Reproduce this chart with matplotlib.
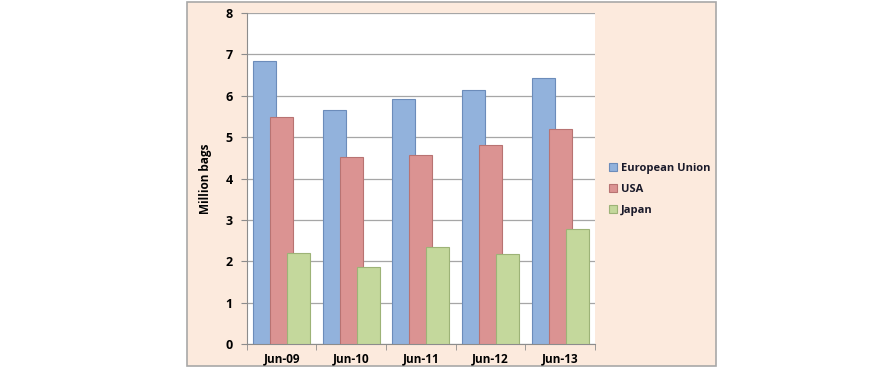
import matplotlib.pyplot as plt
import numpy as np
from matplotlib.patches import Rectangle

# data
periods = ['Jun-09', 'Jun-10', 'Jun-11', 'Jun-12', 'Jun-13']
eu = [6.83, 5.65, 5.93, 6.15, 6.42]
usa = [5.49, 4.51, 4.56, 4.81, 5.19]
japan = [2.20, 1.85, 2.35, 2.18, 2.78]
series_names = ['European Union', 'USA', 'Japan']

plt.rcParams['font.family'] = ['Open Sans', 'DejaVu Sans']

fig = plt.figure(figsize=(8.75, 3.75), dpi=100)
fig.patch.set_facecolor('white')

# peach chart box behind the plot
box = Rectangle((0.2137, 0.024), 0.6046, 0.9707, transform=fig.transFigure,
                facecolor='#FCEADD', edgecolor='#A8A8A8', linewidth=1.2, zorder=-5)
fig.patches.append(box)

ax = fig.add_axes([0.282, 0.083, 0.398, 0.882])
ax.set_zorder(1)
ax.set_facecolor('white')

x = np.arange(len(periods))
w = 0.33
step = 0.245  # bars overlap a little, as in the original
fills = ['#92B2DC', '#DB9392', '#C4D89C']
edges = ['#6C8CBA', '#B87372', '#9DB377']
for i, (vals, name) in enumerate(zip([eu, usa, japan], series_names)):
    ax.bar(x + (i - 1) * step, vals, w, color=fills[i], edgecolor=edges[i],
           linewidth=0.8, label=name, zorder=3 + i)

ax.set_xlim(-0.5, 4.5)
ax.set_ylim(0, 8)
ax.set_yticks(range(0, 9))
ax.grid(axis='y', color='#A6A6A6', linewidth=0.9, zorder=0)

for s in ['top', 'right']:
    ax.spines[s].set_visible(False)
for s in ['left', 'bottom']:
    ax.spines[s].set_color('#8C8C8C')

ax.set_xticks(x)
ax.set_xticklabels(periods, fontweight='bold', fontsize=8.5)
ax.tick_params(axis='x', which='major', length=0, pad=6)
ax.set_xticks(np.arange(-0.5, 5.0, 1.0), minor=True)
ax.tick_params(axis='x', which='minor', length=4, color='#8C8C8C')
ax.tick_params(axis='y', length=4, color='#8C8C8C', labelsize=9, pad=6)
for lbl in ax.get_yticklabels():
    lbl.set_fontweight('bold')

ax.set_ylabel('Million bags', fontweight='bold', fontsize=8.5, labelpad=10)

leg = ax.legend(loc='center left', bbox_to_anchor=(1.012, 0.468), frameon=False,
                prop={'weight': 'bold', 'size': 8}, handlelength=0.7,
                handleheight=0.7, handletextpad=0.35, labelspacing=0.9)
for t in leg.get_texts():
    t.set_color('#1A1A2A')

fig.savefig('out.png', dpi=100, facecolor='white')
